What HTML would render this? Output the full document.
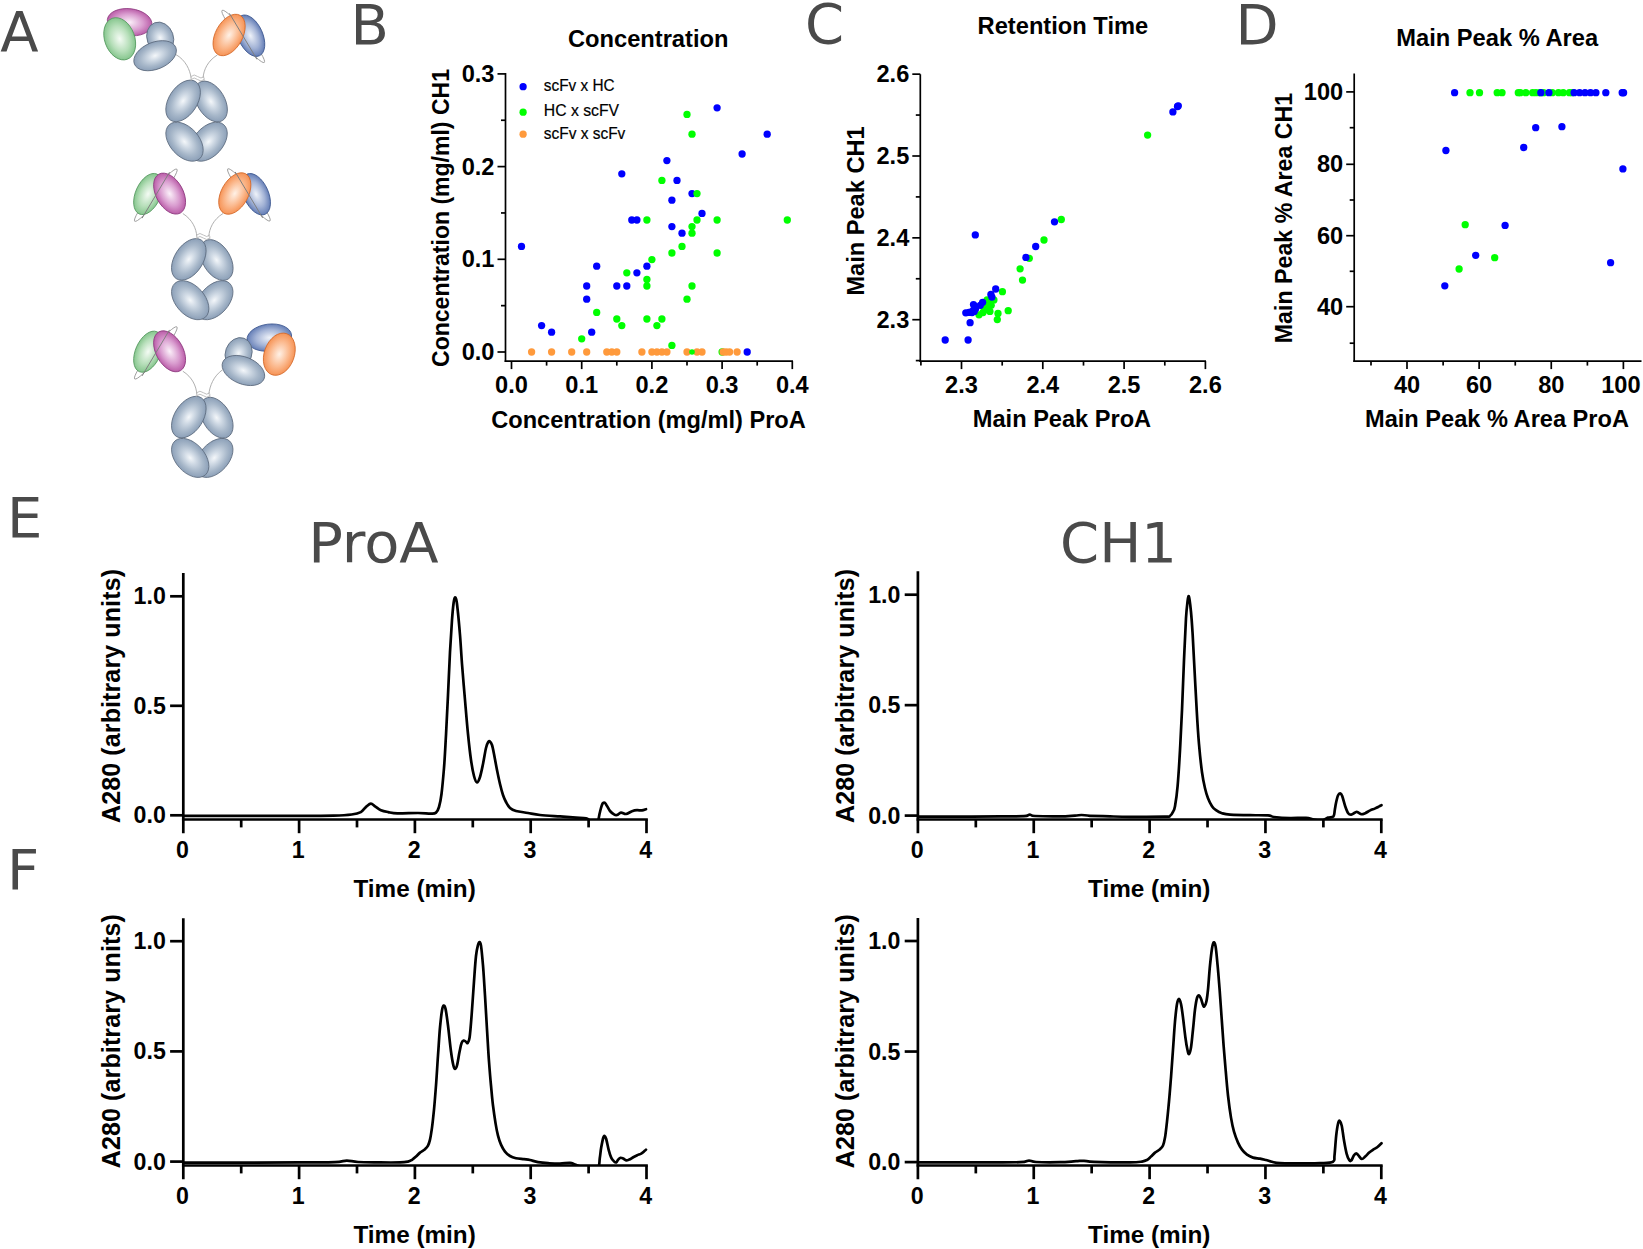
<!DOCTYPE html>
<html lang="en"><head><meta charset="utf-8"><title>Figure</title>
<style>html,body{margin:0;padding:0;background:#fff;overflow:hidden}svg{display:block}</style></head>
<body>
<svg width="1643" height="1249" viewBox="0 0 1643 1249">
<rect width="1643" height="1249" fill="#fff"/>
<defs>
<radialGradient id="gGray" cx="50%" cy="50%" r="55%"><stop offset="0" stop-color="#f4f7fa"/><stop offset="0.28" stop-color="#d0dae5"/><stop offset="0.62" stop-color="#a8b8ca"/><stop offset="1" stop-color="#8398b2"/></radialGradient>
<radialGradient id="gMag" cx="50%" cy="50%" r="55%"><stop offset="0" stop-color="#fbf0f9"/><stop offset="0.55" stop-color="#d99ccf"/><stop offset="1" stop-color="#b24d9e"/></radialGradient>
<radialGradient id="gGrn" cx="50%" cy="50%" r="55%"><stop offset="0" stop-color="#f4fbf4"/><stop offset="0.55" stop-color="#b7dfba"/><stop offset="1" stop-color="#79bf82"/></radialGradient>
<radialGradient id="gOrg" cx="50%" cy="50%" r="55%"><stop offset="0" stop-color="#fff1e6"/><stop offset="0.55" stop-color="#fbb98e"/><stop offset="1" stop-color="#f58a48"/></radialGradient>
<radialGradient id="gBlu" cx="50%" cy="50%" r="55%"><stop offset="0" stop-color="#eef2f9"/><stop offset="0.55" stop-color="#a3b3d6"/><stop offset="1" stop-color="#5470ae"/></radialGradient>
</defs>
<text x="0.3" y="51.2" font-size="56" text-anchor="start" font-family="DejaVu Sans, Verdana, sans-serif" fill="#4a4a4a" >A</text>
<text x="350.5" y="43.8" font-size="56" text-anchor="start" font-family="DejaVu Sans, Verdana, sans-serif" fill="#4a4a4a" >B</text>
<text x="805.1" y="43.0" font-size="56" text-anchor="start" font-family="DejaVu Sans, Verdana, sans-serif" fill="#4a4a4a" >C</text>
<text x="1235.4" y="43.6" font-size="56" text-anchor="start" font-family="DejaVu Sans, Verdana, sans-serif" fill="#4a4a4a" >D</text>
<text x="6.9" y="536.9" font-size="56" text-anchor="start" font-family="DejaVu Sans, Verdana, sans-serif" fill="#4a4a4a" >E</text>
<text x="6.9" y="889.0" font-size="56" text-anchor="start" font-family="DejaVu Sans, Verdana, sans-serif" fill="#4a4a4a" >F</text>
<g id="panelA">
<ellipse cx="0" cy="0" rx="22.4" ry="13.5" transform="translate(129.6,22.2) rotate(7)" fill="url(#gMag)" stroke="#8e3a7f" stroke-width="0.8"/>
<ellipse cx="0" cy="0" rx="15.0" ry="21.8" transform="translate(119.7,38.8) rotate(-20)" fill="url(#gGrn)" stroke="#55995f" stroke-width="0.8"/>
<ellipse cx="0" cy="0" rx="13.2" ry="16" transform="translate(160.2,37.8) rotate(-20)" fill="url(#gGray)" stroke="#5d6b7e" stroke-width="0.8"/>
<ellipse cx="0" cy="0" rx="22.3" ry="13.5" transform="translate(155.1,55.7) rotate(-22)" fill="url(#gGray)" stroke="#5d6b7e" stroke-width="0.8"/>
<path d="M175.8,54.5 C185.6,60.0 190.1,70.0 191.1,78.0" fill="none" stroke="#a6a6a6" stroke-width="0.9"/>
<ellipse cx="0" cy="0" rx="4.6" ry="33.5" transform="translate(243.2,36.4) rotate(-39)" fill="none" stroke="#9c9c9c" stroke-width="0.9"/>
<ellipse cx="0" cy="0" rx="12.3" ry="22.0" transform="translate(250.4,35.7) rotate(-24)" fill="url(#gBlu)" stroke="#3c568f" stroke-width="0.8"/>
<ellipse cx="0" cy="0" rx="13.5" ry="22.5" transform="translate(229.1,35.0) rotate(29)" fill="url(#gOrg)" stroke="#d4692a" stroke-width="0.8"/>
<line x1="3.8" y1="-26.5" x2="-3.8" y2="26.5" transform="translate(243.2,36.4) rotate(-39)" stroke="#7d7d7d" stroke-width="0.9"/>
<path d="M217.3,55.0 C207.6,61.0 203.6,70.0 203.1,78.0" fill="none" stroke="#a6a6a6" stroke-width="0.9"/>
<ellipse cx="0" cy="0" rx="14.5" ry="22.8" transform="translate(208.6,141.7) rotate(42)" fill="url(#gGray)" stroke="#5d6b7e" stroke-width="0.8"/>
<ellipse cx="0" cy="0" rx="14.5" ry="22.8" transform="translate(184.5,141.7) rotate(-42)" fill="url(#gGray)" stroke="#5d6b7e" stroke-width="0.8"/>
<ellipse cx="0" cy="0" rx="13.8" ry="22.3" transform="translate(210.9,101.5) rotate(-31)" fill="url(#gGray)" stroke="#5d6b7e" stroke-width="0.8"/>
<ellipse cx="0" cy="0" rx="14.2" ry="23" transform="translate(183.1,100.9) rotate(33)" fill="url(#gGray)" stroke="#5d6b7e" stroke-width="0.8"/>
<path d="M191.1,77.6 l0,3.5 M204.1,77.6 l0,3.5 M191.1,76.5 q3,-3 6.5,0 t6.5,0 M191.1,79.5 q3,-3 6.5,0 t6.5,0" fill="none" stroke="#b0b0b0" stroke-width="0.8"/>
<ellipse cx="0" cy="0" rx="4.6" ry="33.5" transform="translate(155.8,195.2) rotate(39)" fill="none" stroke="#9c9c9c" stroke-width="0.9"/>
<ellipse cx="0" cy="0" rx="12.5" ry="21.8" transform="translate(148.1,194.0) rotate(24)" fill="url(#gGrn)" stroke="#55995f" stroke-width="0.8"/>
<ellipse cx="0" cy="0" rx="13.5" ry="22.2" transform="translate(169.6,193.6) rotate(-29)" fill="url(#gMag)" stroke="#8e3a7f" stroke-width="0.8"/>
<line x1="-3.8" y1="-26.5" x2="3.8" y2="26.5" transform="translate(155.8,195.2) rotate(39)" stroke="#7d7d7d" stroke-width="0.9"/>
<path d="M182.8,213.5 C192.3,219.5 196.3,228.5 196.8,236.5" fill="none" stroke="#a6a6a6" stroke-width="0.9"/>
<ellipse cx="0" cy="0" rx="4.6" ry="33.5" transform="translate(248.9,194.9) rotate(-39)" fill="none" stroke="#9c9c9c" stroke-width="0.9"/>
<ellipse cx="0" cy="0" rx="12.3" ry="22.0" transform="translate(256.1,194.2) rotate(-24)" fill="url(#gBlu)" stroke="#3c568f" stroke-width="0.8"/>
<ellipse cx="0" cy="0" rx="13.5" ry="22.5" transform="translate(234.8,193.5) rotate(29)" fill="url(#gOrg)" stroke="#d4692a" stroke-width="0.8"/>
<line x1="3.8" y1="-26.5" x2="-3.8" y2="26.5" transform="translate(248.9,194.9) rotate(-39)" stroke="#7d7d7d" stroke-width="0.9"/>
<path d="M223.0,213.5 C213.3,219.5 209.3,228.5 208.8,236.5" fill="none" stroke="#a6a6a6" stroke-width="0.9"/>
<ellipse cx="0" cy="0" rx="14.5" ry="22.8" transform="translate(214.3,300.2) rotate(42)" fill="url(#gGray)" stroke="#5d6b7e" stroke-width="0.8"/>
<ellipse cx="0" cy="0" rx="14.5" ry="22.8" transform="translate(190.2,300.2) rotate(-42)" fill="url(#gGray)" stroke="#5d6b7e" stroke-width="0.8"/>
<ellipse cx="0" cy="0" rx="13.8" ry="22.3" transform="translate(216.6,260.0) rotate(-31)" fill="url(#gGray)" stroke="#5d6b7e" stroke-width="0.8"/>
<ellipse cx="0" cy="0" rx="14.2" ry="23" transform="translate(188.8,259.4) rotate(33)" fill="url(#gGray)" stroke="#5d6b7e" stroke-width="0.8"/>
<path d="M196.8,236.1 l0,3.5 M209.8,236.1 l0,3.5 M196.8,235.0 q3,-3 6.5,0 t6.5,0 M196.8,238.0 q3,-3 6.5,0 t6.5,0" fill="none" stroke="#b0b0b0" stroke-width="0.8"/>
<ellipse cx="0" cy="0" rx="4.6" ry="33.5" transform="translate(155.8,352.9) rotate(39)" fill="none" stroke="#9c9c9c" stroke-width="0.9"/>
<ellipse cx="0" cy="0" rx="12.5" ry="21.8" transform="translate(148.1,351.7) rotate(24)" fill="url(#gGrn)" stroke="#55995f" stroke-width="0.8"/>
<ellipse cx="0" cy="0" rx="13.5" ry="22.2" transform="translate(169.6,351.3) rotate(-29)" fill="url(#gMag)" stroke="#8e3a7f" stroke-width="0.8"/>
<line x1="-3.8" y1="-26.5" x2="3.8" y2="26.5" transform="translate(155.8,352.9) rotate(39)" stroke="#7d7d7d" stroke-width="0.9"/>
<path d="M182.8,371.2 C192.3,377.2 196.3,386.2 196.8,394.2" fill="none" stroke="#a6a6a6" stroke-width="0.9"/>
<ellipse cx="0" cy="0" rx="22.4" ry="13.5" transform="translate(269.3,337.6) rotate(-7)" fill="url(#gBlu)" stroke="#3c568f" stroke-width="0.8"/>
<ellipse cx="0" cy="0" rx="15.0" ry="21.8" transform="translate(279.3,354.2) rotate(20)" fill="url(#gOrg)" stroke="#d4692a" stroke-width="0.8"/>
<ellipse cx="0" cy="0" rx="13.2" ry="16" transform="translate(238.6,353.3) rotate(20)" fill="url(#gGray)" stroke="#5d6b7e" stroke-width="0.8"/>
<ellipse cx="0" cy="0" rx="22.3" ry="13.5" transform="translate(243.4,370.5) rotate(22)" fill="url(#gGray)" stroke="#5d6b7e" stroke-width="0.8"/>
<path d="M222.7,369.7 C213.3,376.2 209.8,386.2 208.8,394.2" fill="none" stroke="#a6a6a6" stroke-width="0.9"/>
<ellipse cx="0" cy="0" rx="14.5" ry="22.8" transform="translate(214.3,457.9) rotate(42)" fill="url(#gGray)" stroke="#5d6b7e" stroke-width="0.8"/>
<ellipse cx="0" cy="0" rx="14.5" ry="22.8" transform="translate(190.2,457.9) rotate(-42)" fill="url(#gGray)" stroke="#5d6b7e" stroke-width="0.8"/>
<ellipse cx="0" cy="0" rx="13.8" ry="22.3" transform="translate(216.6,417.7) rotate(-31)" fill="url(#gGray)" stroke="#5d6b7e" stroke-width="0.8"/>
<ellipse cx="0" cy="0" rx="14.2" ry="23" transform="translate(188.8,417.1) rotate(33)" fill="url(#gGray)" stroke="#5d6b7e" stroke-width="0.8"/>
<path d="M196.8,393.8 l0,3.5 M209.8,393.8 l0,3.5 M196.8,392.7 q3,-3 6.5,0 t6.5,0 M196.8,395.7 q3,-3 6.5,0 t6.5,0" fill="none" stroke="#b0b0b0" stroke-width="0.8"/>
</g>
<g id="panelB">
<line x1="505.50" y1="73.00" x2="505.50" y2="361.95" stroke="#000" stroke-width="1.7" stroke-linecap="butt"/>
<line x1="504.65" y1="361.10" x2="793.00" y2="361.10" stroke="#000" stroke-width="1.7" stroke-linecap="butt"/>
<line x1="497.50" y1="352.00" x2="505.50" y2="352.00" stroke="#000" stroke-width="1.7" stroke-linecap="butt"/>
<text x="494.5" y="360.0" font-size="23.6" text-anchor="end" font-family="Liberation Sans, Arial, sans-serif" font-weight="bold" fill="#000" >0.0</text>
<line x1="497.50" y1="259.30" x2="505.50" y2="259.30" stroke="#000" stroke-width="1.7" stroke-linecap="butt"/>
<text x="494.5" y="267.3" font-size="23.6" text-anchor="end" font-family="Liberation Sans, Arial, sans-serif" font-weight="bold" fill="#000" >0.1</text>
<line x1="497.50" y1="166.60" x2="505.50" y2="166.60" stroke="#000" stroke-width="1.7" stroke-linecap="butt"/>
<text x="494.5" y="174.6" font-size="23.6" text-anchor="end" font-family="Liberation Sans, Arial, sans-serif" font-weight="bold" fill="#000" >0.2</text>
<line x1="497.50" y1="73.90" x2="505.50" y2="73.90" stroke="#000" stroke-width="1.7" stroke-linecap="butt"/>
<text x="494.5" y="81.9" font-size="23.6" text-anchor="end" font-family="Liberation Sans, Arial, sans-serif" font-weight="bold" fill="#000" >0.3</text>
<line x1="501.00" y1="305.65" x2="505.50" y2="305.65" stroke="#000" stroke-width="1.7" stroke-linecap="butt"/>
<line x1="501.00" y1="212.95" x2="505.50" y2="212.95" stroke="#000" stroke-width="1.7" stroke-linecap="butt"/>
<line x1="501.00" y1="120.25" x2="505.50" y2="120.25" stroke="#000" stroke-width="1.7" stroke-linecap="butt"/>
<line x1="511.50" y1="361.10" x2="511.50" y2="369.10" stroke="#000" stroke-width="1.7" stroke-linecap="butt"/>
<text x="511.5" y="392.9" font-size="23.6" text-anchor="middle" font-family="Liberation Sans, Arial, sans-serif" font-weight="bold" fill="#000" >0.0</text>
<line x1="581.70" y1="361.10" x2="581.70" y2="369.10" stroke="#000" stroke-width="1.7" stroke-linecap="butt"/>
<text x="581.7" y="392.9" font-size="23.6" text-anchor="middle" font-family="Liberation Sans, Arial, sans-serif" font-weight="bold" fill="#000" >0.1</text>
<line x1="651.90" y1="361.10" x2="651.90" y2="369.10" stroke="#000" stroke-width="1.7" stroke-linecap="butt"/>
<text x="651.9" y="392.9" font-size="23.6" text-anchor="middle" font-family="Liberation Sans, Arial, sans-serif" font-weight="bold" fill="#000" >0.2</text>
<line x1="722.10" y1="361.10" x2="722.10" y2="369.10" stroke="#000" stroke-width="1.7" stroke-linecap="butt"/>
<text x="722.1" y="392.9" font-size="23.6" text-anchor="middle" font-family="Liberation Sans, Arial, sans-serif" font-weight="bold" fill="#000" >0.3</text>
<line x1="792.30" y1="361.10" x2="792.30" y2="369.10" stroke="#000" stroke-width="1.7" stroke-linecap="butt"/>
<text x="792.3" y="392.9" font-size="23.6" text-anchor="middle" font-family="Liberation Sans, Arial, sans-serif" font-weight="bold" fill="#000" >0.4</text>
<line x1="546.60" y1="361.10" x2="546.60" y2="365.60" stroke="#000" stroke-width="1.7" stroke-linecap="butt"/>
<line x1="616.80" y1="361.10" x2="616.80" y2="365.60" stroke="#000" stroke-width="1.7" stroke-linecap="butt"/>
<line x1="687.00" y1="361.10" x2="687.00" y2="365.60" stroke="#000" stroke-width="1.7" stroke-linecap="butt"/>
<line x1="757.20" y1="361.10" x2="757.20" y2="365.60" stroke="#000" stroke-width="1.7" stroke-linecap="butt"/>
<text x="648.2" y="46.7" font-size="23.7" text-anchor="middle" font-family="Liberation Sans, Arial, sans-serif" font-weight="bold" fill="#000" >Concentration</text>
<text x="648.5" y="428.0" font-size="23.6" text-anchor="middle" font-family="Liberation Sans, Arial, sans-serif" font-weight="bold" fill="#000" >Concentration (mg/ml) ProA</text>
<text transform="translate(449.0,218.0) rotate(-90) scale(0.976,1)" font-size="23.6" text-anchor="middle" font-family="Liberation Sans, Arial, sans-serif" font-weight="bold" fill="#000" >Concentration (mg/ml) CH1</text>
<circle cx="523.1" cy="86.7" r="3.65" fill="#0000ff"/>
<text x="543.8" y="90.9" font-size="16.2" text-anchor="start" font-family="Liberation Sans, Arial, sans-serif" fill="#000" textLength="70.8" lengthAdjust="spacingAndGlyphs" stroke="#000" stroke-width="0.2">scFv x HC</text>
<circle cx="523.1" cy="112.2" r="3.65" fill="#00ff00"/>
<text x="543.8" y="116.2" font-size="16.2" text-anchor="start" font-family="Liberation Sans, Arial, sans-serif" fill="#000" textLength="75.2" lengthAdjust="spacingAndGlyphs" stroke="#000" stroke-width="0.2">HC x scFV</text>
<circle cx="523.1" cy="134.2" r="3.65" fill="#ff9a3c"/>
<text x="543.8" y="138.6" font-size="16.2" text-anchor="start" font-family="Liberation Sans, Arial, sans-serif" fill="#000" textLength="81.5" lengthAdjust="spacingAndGlyphs" stroke="#000" stroke-width="0.2">scFv x scFv</text>
<g fill="#0000ff"><circle cx="521.5" cy="246.4" r="3.65"/><circle cx="541.6" cy="325.6" r="3.65"/><circle cx="551.6" cy="332.2" r="3.65"/><circle cx="591.7" cy="332.2" r="3.65"/><circle cx="586.7" cy="286.0" r="3.65"/><circle cx="586.7" cy="299.2" r="3.65"/><circle cx="596.7" cy="266.2" r="3.65"/><circle cx="616.8" cy="286.0" r="3.65"/><circle cx="626.8" cy="286.0" r="3.65"/><circle cx="636.9" cy="272.8" r="3.65"/><circle cx="631.8" cy="220.0" r="3.65"/><circle cx="636.9" cy="220.0" r="3.65"/><circle cx="717.1" cy="107.8" r="3.65"/><circle cx="767.2" cy="134.2" r="3.65"/><circle cx="742.1" cy="154.0" r="3.65"/><circle cx="666.9" cy="160.6" r="3.65"/><circle cx="621.8" cy="173.8" r="3.65"/><circle cx="677.0" cy="180.4" r="3.65"/><circle cx="692.0" cy="193.6" r="3.65"/><circle cx="671.9" cy="200.2" r="3.65"/><circle cx="702.0" cy="213.4" r="3.65"/><circle cx="671.9" cy="226.6" r="3.65"/><circle cx="682.0" cy="233.2" r="3.65"/><circle cx="646.9" cy="266.2" r="3.65"/><circle cx="747.2" cy="352.0" r="3.65"/></g>
<g fill="#00ff00"><circle cx="581.7" cy="338.8" r="3.65"/><circle cx="596.7" cy="312.4" r="3.65"/><circle cx="616.8" cy="319.0" r="3.65"/><circle cx="621.8" cy="325.6" r="3.65"/><circle cx="626.8" cy="272.8" r="3.65"/><circle cx="687.0" cy="114.4" r="3.65"/><circle cx="692.0" cy="134.2" r="3.65"/><circle cx="661.9" cy="180.4" r="3.65"/><circle cx="697.0" cy="193.6" r="3.65"/><circle cx="646.9" cy="220.0" r="3.65"/><circle cx="697.0" cy="220.0" r="3.65"/><circle cx="717.1" cy="220.0" r="3.65"/><circle cx="787.3" cy="220.0" r="3.65"/><circle cx="692.0" cy="226.6" r="3.65"/><circle cx="692.0" cy="233.2" r="3.65"/><circle cx="682.0" cy="246.4" r="3.65"/><circle cx="671.9" cy="253.0" r="3.65"/><circle cx="717.1" cy="253.0" r="3.65"/><circle cx="651.9" cy="259.6" r="3.65"/><circle cx="646.9" cy="279.4" r="3.65"/><circle cx="646.9" cy="286.0" r="3.65"/><circle cx="692.0" cy="286.0" r="3.65"/><circle cx="687.0" cy="299.2" r="3.65"/><circle cx="646.9" cy="319.0" r="3.65"/><circle cx="661.9" cy="319.0" r="3.65"/><circle cx="656.9" cy="325.6" r="3.65"/><circle cx="671.9" cy="345.4" r="3.65"/><circle cx="722.1" cy="352.0" r="3.65"/></g>
<g fill="#ff9a3c"><circle cx="531.6" cy="352.0" r="3.65"/><circle cx="551.6" cy="352.0" r="3.65"/><circle cx="571.7" cy="352.0" r="3.65"/><circle cx="586.7" cy="352.0" r="3.65"/><circle cx="606.8" cy="352.0" r="3.65"/><circle cx="611.8" cy="352.0" r="3.65"/><circle cx="616.8" cy="352.0" r="3.65"/><circle cx="641.9" cy="352.0" r="3.65"/><circle cx="651.9" cy="352.0" r="3.65"/><circle cx="656.9" cy="352.0" r="3.65"/><circle cx="661.9" cy="352.0" r="3.65"/><circle cx="666.9" cy="352.0" r="3.65"/><circle cx="687.0" cy="352.0" r="3.65"/><circle cx="697.0" cy="352.0" r="3.65"/><circle cx="702.0" cy="352.0" r="3.65"/><circle cx="723.1" cy="352.0" r="3.65"/><circle cx="726.1" cy="352.0" r="3.65"/><circle cx="729.6" cy="352.0" r="3.65"/><circle cx="737.1" cy="352.0" r="3.65"/></g>
<g fill="#00ff00"><circle cx="692.0" cy="352.0" r="2.8"/></g>
</g>
<g id="panelC">
<line x1="920.30" y1="74.20" x2="920.30" y2="361.95" stroke="#000" stroke-width="1.7" stroke-linecap="butt"/>
<line x1="919.45" y1="361.10" x2="1206.00" y2="361.10" stroke="#000" stroke-width="1.7" stroke-linecap="butt"/>
<line x1="912.30" y1="319.70" x2="920.30" y2="319.70" stroke="#000" stroke-width="1.7" stroke-linecap="butt"/>
<text x="909.3" y="327.7" font-size="23.6" text-anchor="end" font-family="Liberation Sans, Arial, sans-serif" font-weight="bold" fill="#000" >2.3</text>
<line x1="912.30" y1="237.85" x2="920.30" y2="237.85" stroke="#000" stroke-width="1.7" stroke-linecap="butt"/>
<text x="909.3" y="245.8" font-size="23.6" text-anchor="end" font-family="Liberation Sans, Arial, sans-serif" font-weight="bold" fill="#000" >2.4</text>
<line x1="912.30" y1="156.00" x2="920.30" y2="156.00" stroke="#000" stroke-width="1.7" stroke-linecap="butt"/>
<text x="909.3" y="164.0" font-size="23.6" text-anchor="end" font-family="Liberation Sans, Arial, sans-serif" font-weight="bold" fill="#000" >2.5</text>
<line x1="912.30" y1="74.15" x2="920.30" y2="74.15" stroke="#000" stroke-width="1.7" stroke-linecap="butt"/>
<text x="909.3" y="82.2" font-size="23.6" text-anchor="end" font-family="Liberation Sans, Arial, sans-serif" font-weight="bold" fill="#000" >2.6</text>
<line x1="915.80" y1="360.60" x2="920.30" y2="360.60" stroke="#000" stroke-width="1.7" stroke-linecap="butt"/>
<line x1="915.80" y1="278.75" x2="920.30" y2="278.75" stroke="#000" stroke-width="1.7" stroke-linecap="butt"/>
<line x1="915.80" y1="196.90" x2="920.30" y2="196.90" stroke="#000" stroke-width="1.7" stroke-linecap="butt"/>
<line x1="915.80" y1="115.05" x2="920.30" y2="115.05" stroke="#000" stroke-width="1.7" stroke-linecap="butt"/>
<line x1="961.50" y1="361.10" x2="961.50" y2="369.10" stroke="#000" stroke-width="1.7" stroke-linecap="butt"/>
<text x="961.5" y="392.9" font-size="23.6" text-anchor="middle" font-family="Liberation Sans, Arial, sans-serif" font-weight="bold" fill="#000" >2.3</text>
<line x1="1042.80" y1="361.10" x2="1042.80" y2="369.10" stroke="#000" stroke-width="1.7" stroke-linecap="butt"/>
<text x="1042.8" y="392.9" font-size="23.6" text-anchor="middle" font-family="Liberation Sans, Arial, sans-serif" font-weight="bold" fill="#000" >2.4</text>
<line x1="1124.10" y1="361.10" x2="1124.10" y2="369.10" stroke="#000" stroke-width="1.7" stroke-linecap="butt"/>
<text x="1124.1" y="392.9" font-size="23.6" text-anchor="middle" font-family="Liberation Sans, Arial, sans-serif" font-weight="bold" fill="#000" >2.5</text>
<line x1="1205.40" y1="361.10" x2="1205.40" y2="369.10" stroke="#000" stroke-width="1.7" stroke-linecap="butt"/>
<text x="1205.4" y="392.9" font-size="23.6" text-anchor="middle" font-family="Liberation Sans, Arial, sans-serif" font-weight="bold" fill="#000" >2.6</text>
<line x1="920.90" y1="361.10" x2="920.90" y2="365.60" stroke="#000" stroke-width="1.7" stroke-linecap="butt"/>
<line x1="1002.20" y1="361.10" x2="1002.20" y2="365.60" stroke="#000" stroke-width="1.7" stroke-linecap="butt"/>
<line x1="1083.50" y1="361.10" x2="1083.50" y2="365.60" stroke="#000" stroke-width="1.7" stroke-linecap="butt"/>
<line x1="1164.80" y1="361.10" x2="1164.80" y2="365.60" stroke="#000" stroke-width="1.7" stroke-linecap="butt"/>
<text x="1062.9" y="34.2" font-size="23.7" text-anchor="middle" font-family="Liberation Sans, Arial, sans-serif" font-weight="bold" fill="#000" >Retention Time</text>
<text x="1062.0" y="427.3" font-size="23.6" text-anchor="middle" font-family="Liberation Sans, Arial, sans-serif" font-weight="bold" fill="#000" >Main Peak ProA</text>
<text transform="translate(863.5,211.0) rotate(-90) scale(1,1)" font-size="23.6" text-anchor="middle" font-family="Liberation Sans, Arial, sans-serif" font-weight="bold" fill="#000" >Main Peak CH1</text>
<g fill="#00ff00"><circle cx="979.0" cy="314.8" r="3.65"/><circle cx="984.4" cy="310.0" r="3.65"/><circle cx="988.5" cy="305.3" r="3.65"/><circle cx="989.9" cy="311.4" r="3.65"/><circle cx="987.1" cy="299.9" r="3.65"/><circle cx="993.9" cy="299.9" r="3.65"/><circle cx="991.2" cy="305.3" r="3.65"/><circle cx="998.0" cy="313.5" r="3.65"/><circle cx="997.3" cy="319.6" r="3.65"/><circle cx="1008.2" cy="310.7" r="3.65"/><circle cx="1002.4" cy="291.7" r="3.65"/><circle cx="1022.5" cy="280.1" r="3.65"/><circle cx="1020.1" cy="268.8" r="3.65"/><circle cx="1029.3" cy="258.3" r="3.65"/><circle cx="1044.0" cy="240.0" r="3.65"/><circle cx="1061.3" cy="219.5" r="3.65"/><circle cx="1147.6" cy="135.1" r="3.65"/><circle cx="986.0" cy="307.5" r="3.65"/><circle cx="990.5" cy="302.5" r="3.65"/><circle cx="983.0" cy="312.5" r="3.65"/></g>
<g fill="#0000ff"><circle cx="945.2" cy="340.0" r="3.65"/><circle cx="968.1" cy="340.0" r="3.65"/><circle cx="970.1" cy="322.7" r="3.65"/><circle cx="965.8" cy="312.8" r="3.65"/><circle cx="970.8" cy="312.1" r="3.65"/><circle cx="974.2" cy="311.4" r="3.65"/><circle cx="975.6" cy="308.7" r="3.65"/><circle cx="973.5" cy="304.6" r="3.65"/><circle cx="980.3" cy="305.3" r="3.65"/><circle cx="982.6" cy="302.3" r="3.65"/><circle cx="990.9" cy="294.4" r="3.65"/><circle cx="991.9" cy="297.1" r="3.65"/><circle cx="995.7" cy="289.0" r="3.65"/><circle cx="975.3" cy="234.9" r="3.65"/><circle cx="1025.9" cy="257.4" r="3.65"/><circle cx="1035.7" cy="246.5" r="3.65"/><circle cx="1054.5" cy="221.8" r="3.65"/><circle cx="1172.9" cy="111.9" r="3.65"/><circle cx="1177.5" cy="106.5" r="3.65"/><circle cx="1178.3" cy="105.8" r="3.65"/><circle cx="972.0" cy="312.6" r="3.65"/><circle cx="973.5" cy="310.2" r="3.65"/><circle cx="969.0" cy="312.4" r="3.65"/></g>
</g>
<g id="panelD">
<line x1="1354.20" y1="73.50" x2="1354.20" y2="361.95" stroke="#000" stroke-width="1.7" stroke-linecap="butt"/>
<line x1="1353.35" y1="361.10" x2="1641.50" y2="361.10" stroke="#000" stroke-width="1.7" stroke-linecap="butt"/>
<line x1="1346.20" y1="306.70" x2="1354.20" y2="306.70" stroke="#000" stroke-width="1.7" stroke-linecap="butt"/>
<text x="1343.2" y="314.7" font-size="23.6" text-anchor="end" font-family="Liberation Sans, Arial, sans-serif" font-weight="bold" fill="#000" >40</text>
<line x1="1346.20" y1="235.70" x2="1354.20" y2="235.70" stroke="#000" stroke-width="1.7" stroke-linecap="butt"/>
<text x="1343.2" y="243.7" font-size="23.6" text-anchor="end" font-family="Liberation Sans, Arial, sans-serif" font-weight="bold" fill="#000" >60</text>
<line x1="1346.20" y1="164.30" x2="1354.20" y2="164.30" stroke="#000" stroke-width="1.7" stroke-linecap="butt"/>
<text x="1343.2" y="172.3" font-size="23.6" text-anchor="end" font-family="Liberation Sans, Arial, sans-serif" font-weight="bold" fill="#000" >80</text>
<line x1="1346.20" y1="91.90" x2="1354.20" y2="91.90" stroke="#000" stroke-width="1.7" stroke-linecap="butt"/>
<text x="1343.2" y="99.9" font-size="23.6" text-anchor="end" font-family="Liberation Sans, Arial, sans-serif" font-weight="bold" fill="#000" >100</text>
<line x1="1349.70" y1="343.20" x2="1354.20" y2="343.20" stroke="#000" stroke-width="1.7" stroke-linecap="butt"/>
<line x1="1349.70" y1="271.30" x2="1354.20" y2="271.30" stroke="#000" stroke-width="1.7" stroke-linecap="butt"/>
<line x1="1349.70" y1="200.00" x2="1354.20" y2="200.00" stroke="#000" stroke-width="1.7" stroke-linecap="butt"/>
<line x1="1349.70" y1="127.70" x2="1354.20" y2="127.70" stroke="#000" stroke-width="1.7" stroke-linecap="butt"/>
<line x1="1407.00" y1="361.10" x2="1407.00" y2="369.10" stroke="#000" stroke-width="1.7" stroke-linecap="butt"/>
<text x="1407.0" y="392.9" font-size="23.6" text-anchor="middle" font-family="Liberation Sans, Arial, sans-serif" font-weight="bold" fill="#000" >40</text>
<line x1="1479.13" y1="361.10" x2="1479.13" y2="369.10" stroke="#000" stroke-width="1.7" stroke-linecap="butt"/>
<text x="1479.1" y="392.9" font-size="23.6" text-anchor="middle" font-family="Liberation Sans, Arial, sans-serif" font-weight="bold" fill="#000" >60</text>
<line x1="1551.26" y1="361.10" x2="1551.26" y2="369.10" stroke="#000" stroke-width="1.7" stroke-linecap="butt"/>
<text x="1551.3" y="392.9" font-size="23.6" text-anchor="middle" font-family="Liberation Sans, Arial, sans-serif" font-weight="bold" fill="#000" >80</text>
<line x1="1623.39" y1="361.10" x2="1623.39" y2="369.10" stroke="#000" stroke-width="1.7" stroke-linecap="butt"/>
<text x="1620.9" y="392.9" font-size="23.6" text-anchor="middle" font-family="Liberation Sans, Arial, sans-serif" font-weight="bold" fill="#000" >100</text>
<line x1="1371.00" y1="361.10" x2="1371.00" y2="365.60" stroke="#000" stroke-width="1.7" stroke-linecap="butt"/>
<line x1="1443.13" y1="361.10" x2="1443.13" y2="365.60" stroke="#000" stroke-width="1.7" stroke-linecap="butt"/>
<line x1="1515.26" y1="361.10" x2="1515.26" y2="365.60" stroke="#000" stroke-width="1.7" stroke-linecap="butt"/>
<line x1="1587.39" y1="361.10" x2="1587.39" y2="365.60" stroke="#000" stroke-width="1.7" stroke-linecap="butt"/>
<text x="1497.2" y="46.1" font-size="23.7" text-anchor="middle" font-family="Liberation Sans, Arial, sans-serif" font-weight="bold" fill="#000" >Main Peak % Area</text>
<text x="1497.0" y="427.3" font-size="23.6" text-anchor="middle" font-family="Liberation Sans, Arial, sans-serif" font-weight="bold" fill="#000" >Main Peak % Area ProA</text>
<text transform="translate(1291.7,218.0) rotate(-90) scale(0.983,1)" font-size="23.6" text-anchor="middle" font-family="Liberation Sans, Arial, sans-serif" font-weight="bold" fill="#000" >Main Peak % Area CH1</text>
<g fill="#00ff00"><circle cx="1470.0" cy="92.7" r="3.65"/><circle cx="1479.5" cy="92.7" r="3.65"/><circle cx="1497.2" cy="92.7" r="3.65"/><circle cx="1502.0" cy="92.7" r="3.65"/><circle cx="1518.3" cy="92.7" r="3.65"/><circle cx="1520.3" cy="92.7" r="3.65"/><circle cx="1525.8" cy="92.7" r="3.65"/><circle cx="1532.6" cy="92.7" r="3.65"/><circle cx="1536.0" cy="92.7" r="3.65"/><circle cx="1540.0" cy="92.7" r="3.65"/><circle cx="1543.5" cy="92.7" r="3.65"/><circle cx="1552.3" cy="92.7" r="3.65"/><circle cx="1558.5" cy="92.7" r="3.65"/><circle cx="1563.2" cy="92.7" r="3.65"/><circle cx="1569.4" cy="92.7" r="3.65"/><circle cx="1572.1" cy="92.7" r="3.65"/><circle cx="1465.2" cy="224.7" r="3.65"/><circle cx="1494.7" cy="257.7" r="3.65"/><circle cx="1459.1" cy="269.0" r="3.65"/></g>
<g fill="#0000ff"><circle cx="1454.6" cy="92.7" r="3.65"/><circle cx="1540.8" cy="92.7" r="3.65"/><circle cx="1548.9" cy="92.7" r="3.65"/><circle cx="1574.1" cy="92.7" r="3.65"/><circle cx="1579.6" cy="92.7" r="3.65"/><circle cx="1585.0" cy="92.7" r="3.65"/><circle cx="1590.5" cy="92.7" r="3.65"/><circle cx="1595.9" cy="92.7" r="3.65"/><circle cx="1605.8" cy="92.7" r="3.65"/><circle cx="1622.9" cy="92.7" r="3.65"/><circle cx="1622.2" cy="92.7" r="3.65"/><circle cx="1623.6" cy="92.7" r="3.65"/><circle cx="1535.7" cy="127.7" r="3.65"/><circle cx="1561.9" cy="126.7" r="3.65"/><circle cx="1523.7" cy="147.5" r="3.65"/><circle cx="1445.9" cy="150.5" r="3.65"/><circle cx="1622.9" cy="168.9" r="3.65"/><circle cx="1505.1" cy="225.4" r="3.65"/><circle cx="1475.7" cy="255.3" r="3.65"/><circle cx="1444.8" cy="285.8" r="3.65"/><circle cx="1610.6" cy="262.7" r="3.65"/></g>
</g>
<g id="chrom1">
<clipPath id="clip1"><rect x="181.3" y="572.9" width="469.2" height="246.60000000000002"/></clipPath>
<path d="M183.2,815.8C192.7,815.8 220.5,815.9 240.0,815.9C259.5,815.9 284.4,815.8 300.0,815.8C315.6,815.8 324.9,815.8 333.5,815.6C342.1,815.4 347.1,815.1 351.7,814.5C356.2,813.9 358.4,813.4 360.8,812.1C363.2,810.8 364.6,808.0 366.3,806.6C368.0,805.2 369.4,803.6 370.9,803.6C372.4,803.6 373.7,805.5 375.4,806.6C377.1,807.7 378.8,809.4 380.9,810.3C383.0,811.2 385.4,811.6 388.2,812.1C390.9,812.6 392.4,813.2 397.4,813.4C402.4,813.5 412.4,813.0 418.0,813.0C423.6,813.0 428.0,813.7 431.0,813.6C434.0,813.5 434.7,813.7 436.0,812.6C437.3,811.5 438.1,810.1 439.0,807.0C439.9,803.9 440.7,800.5 441.5,794.0C442.3,787.5 443.2,777.8 444.0,768.0C444.8,758.2 445.3,747.2 446.0,735.0C446.7,722.8 447.3,708.8 448.0,695.0C448.7,681.2 449.3,664.5 450.0,652.0C450.7,639.5 451.4,628.2 452.0,620.0C452.6,611.8 453.1,606.8 453.6,603.0C454.1,599.2 454.5,597.8 455.0,597.5C455.5,597.2 456.1,598.6 456.6,601.2C457.1,603.8 457.4,607.4 458.0,613.0C458.6,618.6 459.3,626.5 460.0,635.0C460.7,643.5 461.2,653.2 462.0,664.0C462.8,674.8 464.0,688.3 465.0,700.0C466.0,711.7 467.0,724.0 468.0,734.0C469.0,744.0 470.0,753.0 471.0,760.0C472.0,767.0 473.0,772.2 474.0,776.0C475.0,779.8 476.0,782.3 477.0,782.5C478.0,782.7 479.0,780.1 480.0,777.0C481.0,773.9 482.0,768.8 483.0,764.0C484.0,759.2 485.1,751.7 486.0,748.0C486.9,744.3 487.5,743.1 488.2,742.0C488.9,740.9 489.4,741.1 490.0,741.6C490.6,742.1 491.3,742.9 492.0,745.0C492.7,747.1 493.2,749.8 494.0,754.0C494.8,758.2 496.0,765.0 497.0,770.0C498.0,775.0 499.0,779.8 500.0,784.0C501.0,788.2 502.0,792.0 503.0,795.0C504.0,798.0 504.8,799.8 506.0,802.0C507.2,804.2 508.3,806.5 510.0,808.0C511.7,809.5 513.0,810.2 516.0,811.0C519.0,811.8 524.0,812.3 528.0,813.0C532.0,813.7 534.7,814.4 540.0,815.0C545.3,815.6 554.0,816.0 560.0,816.4C566.0,816.8 571.7,817.3 576.0,817.6C580.3,817.9 583.7,817.9 586.0,818.4C588.3,818.9 588.5,819.9 590.0,820.5C591.5,821.1 593.7,822.0 595.0,822.0C596.3,822.0 597.2,821.8 598.0,820.5C598.8,819.2 599.0,816.1 599.5,814.0C600.0,811.9 600.5,809.8 601.0,808.0C601.5,806.2 602.1,804.4 602.6,803.5C603.1,802.6 603.5,802.6 604.0,802.6C604.5,802.6 605.0,802.9 605.5,803.5C606.0,804.1 606.2,804.8 607.0,806.0C607.8,807.2 608.8,809.6 610.0,811.0C611.2,812.4 612.8,813.7 614.0,814.4C615.2,815.1 615.8,815.3 617.0,815.0C618.2,814.7 619.5,812.8 621.0,812.6C622.5,812.4 624.2,814.2 626.0,814.0C627.8,813.8 630.2,811.8 632.0,811.2C633.8,810.6 635.3,810.3 637.0,810.2C638.7,810.1 640.5,810.6 642.0,810.4C643.5,810.2 645.3,809.4 646.0,809.2" fill="none" stroke="#000" stroke-width="2.7" stroke-linejoin="round" stroke-linecap="round" clip-path="url(#clip1)"/>
<line x1="183.30" y1="572.90" x2="183.30" y2="833.20" stroke="#000" stroke-width="2.7" stroke-linecap="butt"/>
<line x1="181.95" y1="819.50" x2="647.85" y2="819.50" stroke="#000" stroke-width="2.7" stroke-linecap="butt"/>
<text x="182.5" y="858.4" font-size="23.2" text-anchor="middle" font-family="Liberation Sans, Arial, sans-serif" font-weight="bold" fill="#000" >0</text>
<line x1="299.10" y1="819.50" x2="299.10" y2="833.20" stroke="#000" stroke-width="2.7" stroke-linecap="butt"/>
<text x="298.3" y="858.4" font-size="23.2" text-anchor="middle" font-family="Liberation Sans, Arial, sans-serif" font-weight="bold" fill="#000" >1</text>
<line x1="414.90" y1="819.50" x2="414.90" y2="833.20" stroke="#000" stroke-width="2.7" stroke-linecap="butt"/>
<text x="414.1" y="858.4" font-size="23.2" text-anchor="middle" font-family="Liberation Sans, Arial, sans-serif" font-weight="bold" fill="#000" >2</text>
<line x1="530.70" y1="819.50" x2="530.70" y2="833.20" stroke="#000" stroke-width="2.7" stroke-linecap="butt"/>
<text x="529.9" y="858.4" font-size="23.2" text-anchor="middle" font-family="Liberation Sans, Arial, sans-serif" font-weight="bold" fill="#000" >3</text>
<line x1="646.50" y1="819.50" x2="646.50" y2="833.20" stroke="#000" stroke-width="2.7" stroke-linecap="butt"/>
<text x="645.7" y="858.4" font-size="23.2" text-anchor="middle" font-family="Liberation Sans, Arial, sans-serif" font-weight="bold" fill="#000" >4</text>
<line x1="241.20" y1="819.50" x2="241.20" y2="827.40" stroke="#000" stroke-width="2.7" stroke-linecap="butt"/>
<line x1="357.00" y1="819.50" x2="357.00" y2="827.40" stroke="#000" stroke-width="2.7" stroke-linecap="butt"/>
<line x1="472.80" y1="819.50" x2="472.80" y2="827.40" stroke="#000" stroke-width="2.7" stroke-linecap="butt"/>
<line x1="588.60" y1="819.50" x2="588.60" y2="827.40" stroke="#000" stroke-width="2.7" stroke-linecap="butt"/>
<line x1="170.10" y1="815.30" x2="183.30" y2="815.30" stroke="#000" stroke-width="2.7" stroke-linecap="butt"/>
<text x="165.8" y="823.2" font-size="23.2" text-anchor="end" font-family="Liberation Sans, Arial, sans-serif" font-weight="bold" fill="#000" >0.0</text>
<line x1="170.10" y1="705.80" x2="183.30" y2="705.80" stroke="#000" stroke-width="2.7" stroke-linecap="butt"/>
<text x="165.8" y="713.7" font-size="23.2" text-anchor="end" font-family="Liberation Sans, Arial, sans-serif" font-weight="bold" fill="#000" >0.5</text>
<line x1="170.10" y1="596.30" x2="183.30" y2="596.30" stroke="#000" stroke-width="2.7" stroke-linecap="butt"/>
<text x="165.8" y="604.2" font-size="23.2" text-anchor="end" font-family="Liberation Sans, Arial, sans-serif" font-weight="bold" fill="#000" >1.0</text>
<text x="414.6" y="897.1" font-size="24.3" text-anchor="middle" font-family="Liberation Sans, Arial, sans-serif" font-weight="bold" fill="#000" >Time (min)</text>
<text transform="translate(119.5,696.0) rotate(-90) scale(1,1)" font-size="25" text-anchor="middle" font-family="Liberation Sans, Arial, sans-serif" font-weight="bold" fill="#000" textLength="254" lengthAdjust="spacing">A280 (arbitrary units)</text>
</g>
<text transform="translate(373.4,562.1) scale(1.027,1)" font-size="56" text-anchor="middle" font-family="DejaVu Sans, Verdana, sans-serif" fill="#4a4a4a">ProA</text>
<g id="chrom2">
<clipPath id="clip2"><rect x="915.9" y="571.2" width="469.4" height="248.29999999999995"/></clipPath>
<path d="M917.9,816.6C924.9,816.6 946.3,816.6 960.0,816.6C973.7,816.6 989.3,816.5 1000.0,816.4C1010.7,816.3 1019.0,816.5 1024.0,816.2C1029.0,815.9 1027.9,814.6 1029.7,814.6C1031.5,814.6 1030.0,815.7 1035.0,816.0C1040.0,816.3 1053.3,816.5 1060.0,816.4C1066.7,816.3 1071.4,815.8 1075.0,815.6C1078.6,815.4 1079.0,815.0 1081.5,815.0C1084.0,815.0 1085.2,815.6 1090.0,815.8C1094.8,816.0 1103.3,816.2 1110.0,816.4C1116.7,816.6 1120.8,816.8 1130.0,816.8C1139.2,816.8 1158.3,816.9 1165.0,816.7C1171.7,816.6 1168.7,816.7 1170.0,815.9C1171.3,815.1 1172.2,813.4 1173.0,811.8C1173.8,810.2 1174.2,810.5 1175.0,806.2C1175.8,801.9 1176.8,795.6 1177.6,786.2C1178.4,776.9 1179.3,762.8 1180.0,750.1C1180.7,737.4 1181.3,725.1 1182.0,710.1C1182.7,695.1 1183.3,675.5 1184.0,660.1C1184.7,644.8 1185.4,627.9 1186.0,618.0C1186.6,608.1 1187.2,604.6 1187.6,601.0C1188.0,597.4 1188.3,596.4 1188.6,596.2C1188.9,596.0 1189.2,597.4 1189.6,600.0C1190.0,602.6 1190.5,606.7 1191.0,612.0C1191.5,617.3 1192.0,624.0 1192.5,632.0C1193.0,640.0 1193.3,647.0 1194.0,660.0C1194.7,673.0 1195.9,696.1 1196.7,710.1C1197.5,724.1 1198.1,733.8 1199.0,744.1C1199.9,754.5 1201.0,764.9 1202.0,772.2C1203.0,779.6 1204.0,783.9 1205.0,788.2C1206.0,792.5 1206.8,795.2 1208.0,798.2C1209.2,801.2 1210.7,804.2 1212.0,806.2C1213.3,808.2 1214.3,809.0 1216.0,810.2C1217.7,811.4 1219.7,812.5 1222.0,813.2C1224.3,813.9 1225.3,814.3 1230.0,814.6C1234.7,814.9 1243.7,815.1 1250.0,815.2C1256.3,815.3 1264.0,815.1 1268.0,815.4C1272.0,815.7 1270.3,816.6 1274.0,817.0C1277.7,817.4 1284.7,817.9 1290.0,818.0C1295.3,818.1 1302.0,817.5 1306.0,817.8C1310.0,818.1 1311.2,819.2 1314.0,819.6C1316.8,820.0 1320.7,820.3 1323.0,820.0C1325.3,819.7 1326.2,818.2 1328.0,817.6C1329.8,817.0 1332.4,817.7 1333.5,816.4C1334.6,815.1 1334.4,812.2 1334.8,810.0C1335.2,807.8 1335.5,805.4 1336.0,803.0C1336.5,800.6 1337.3,797.1 1338.0,795.5C1338.7,793.9 1339.5,793.3 1340.2,793.4C1340.9,793.5 1341.4,793.9 1342.2,796.0C1343.0,798.1 1344.2,803.3 1345.2,806.2C1346.2,809.1 1347.2,811.8 1348.2,813.2C1349.2,814.6 1350.0,814.7 1351.2,814.6C1352.4,814.5 1354.2,812.8 1355.2,812.4C1356.2,812.0 1356.2,811.7 1357.2,812.0C1358.2,812.3 1359.9,814.0 1361.2,814.2C1362.5,814.4 1363.7,813.8 1365.2,813.2C1366.7,812.6 1368.5,811.2 1370.2,810.4C1371.9,809.6 1373.7,809.1 1375.2,808.4C1376.7,807.7 1378.2,806.9 1379.2,806.4C1380.2,805.9 1381.1,805.4 1381.5,805.2" fill="none" stroke="#000" stroke-width="2.7" stroke-linejoin="round" stroke-linecap="round" clip-path="url(#clip2)"/>
<line x1="917.90" y1="571.20" x2="917.90" y2="833.20" stroke="#000" stroke-width="2.7" stroke-linecap="butt"/>
<line x1="916.55" y1="819.50" x2="1382.65" y2="819.50" stroke="#000" stroke-width="2.7" stroke-linecap="butt"/>
<text x="917.1" y="858.4" font-size="23.2" text-anchor="middle" font-family="Liberation Sans, Arial, sans-serif" font-weight="bold" fill="#000" >0</text>
<line x1="1033.75" y1="819.50" x2="1033.75" y2="833.20" stroke="#000" stroke-width="2.7" stroke-linecap="butt"/>
<text x="1033.0" y="858.4" font-size="23.2" text-anchor="middle" font-family="Liberation Sans, Arial, sans-serif" font-weight="bold" fill="#000" >1</text>
<line x1="1149.60" y1="819.50" x2="1149.60" y2="833.20" stroke="#000" stroke-width="2.7" stroke-linecap="butt"/>
<text x="1148.8" y="858.4" font-size="23.2" text-anchor="middle" font-family="Liberation Sans, Arial, sans-serif" font-weight="bold" fill="#000" >2</text>
<line x1="1265.45" y1="819.50" x2="1265.45" y2="833.20" stroke="#000" stroke-width="2.7" stroke-linecap="butt"/>
<text x="1264.6" y="858.4" font-size="23.2" text-anchor="middle" font-family="Liberation Sans, Arial, sans-serif" font-weight="bold" fill="#000" >3</text>
<line x1="1381.30" y1="819.50" x2="1381.30" y2="833.20" stroke="#000" stroke-width="2.7" stroke-linecap="butt"/>
<text x="1380.5" y="858.4" font-size="23.2" text-anchor="middle" font-family="Liberation Sans, Arial, sans-serif" font-weight="bold" fill="#000" >4</text>
<line x1="975.82" y1="819.50" x2="975.82" y2="827.40" stroke="#000" stroke-width="2.7" stroke-linecap="butt"/>
<line x1="1091.67" y1="819.50" x2="1091.67" y2="827.40" stroke="#000" stroke-width="2.7" stroke-linecap="butt"/>
<line x1="1207.53" y1="819.50" x2="1207.53" y2="827.40" stroke="#000" stroke-width="2.7" stroke-linecap="butt"/>
<line x1="1323.38" y1="819.50" x2="1323.38" y2="827.40" stroke="#000" stroke-width="2.7" stroke-linecap="butt"/>
<line x1="904.70" y1="815.60" x2="917.90" y2="815.60" stroke="#000" stroke-width="2.7" stroke-linecap="butt"/>
<text x="900.4" y="823.5" font-size="23.2" text-anchor="end" font-family="Liberation Sans, Arial, sans-serif" font-weight="bold" fill="#000" >0.0</text>
<line x1="904.70" y1="705.15" x2="917.90" y2="705.15" stroke="#000" stroke-width="2.7" stroke-linecap="butt"/>
<text x="900.4" y="713.1" font-size="23.2" text-anchor="end" font-family="Liberation Sans, Arial, sans-serif" font-weight="bold" fill="#000" >0.5</text>
<line x1="904.70" y1="594.70" x2="917.90" y2="594.70" stroke="#000" stroke-width="2.7" stroke-linecap="butt"/>
<text x="900.4" y="602.6" font-size="23.2" text-anchor="end" font-family="Liberation Sans, Arial, sans-serif" font-weight="bold" fill="#000" >1.0</text>
<text x="1149.2" y="897.1" font-size="24.3" text-anchor="middle" font-family="Liberation Sans, Arial, sans-serif" font-weight="bold" fill="#000" >Time (min)</text>
<text transform="translate(853.8,696.0) rotate(-90) scale(1,1)" font-size="25" text-anchor="middle" font-family="Liberation Sans, Arial, sans-serif" font-weight="bold" fill="#000" textLength="254" lengthAdjust="spacing">A280 (arbitrary units)</text>
</g>
<text x="1118.5" y="562.1" font-size="56" text-anchor="middle" font-family="DejaVu Sans, Verdana, sans-serif" fill="#4a4a4a" >CH1</text>
<g id="chrom3">
<clipPath id="clip3"><rect x="181.3" y="918.3" width="469.2" height="247.20000000000005"/></clipPath>
<path d="M183.2,1162.6C194.3,1162.6 230.5,1162.6 250.0,1162.6C269.5,1162.6 285.8,1162.5 300.0,1162.4C314.2,1162.3 327.2,1162.5 335.0,1162.2C342.8,1161.9 343.0,1160.6 346.8,1160.6C350.6,1160.6 352.5,1161.7 358.0,1162.0C363.5,1162.3 373.0,1162.3 380.0,1162.4C387.0,1162.5 395.3,1162.5 400.0,1162.4C404.7,1162.3 406.0,1162.0 408.0,1161.6C410.0,1161.2 410.7,1160.6 412.0,1159.8C413.3,1159.0 414.7,1157.8 416.0,1156.6C417.3,1155.4 418.5,1153.8 420.0,1152.6C421.5,1151.4 423.7,1150.4 425.0,1149.2C426.3,1148.0 427.2,1147.2 428.0,1145.6C428.8,1144.0 429.3,1142.6 430.0,1139.6C430.7,1136.6 431.3,1132.6 432.0,1127.6C432.7,1122.6 433.3,1116.6 434.0,1109.6C434.7,1102.6 435.3,1094.5 436.0,1085.5C436.7,1076.5 437.3,1065.2 438.0,1055.5C438.7,1045.8 439.3,1035.0 440.0,1027.5C440.7,1020.0 441.4,1014.1 442.0,1010.5C442.6,1006.9 443.0,1005.8 443.6,1005.6C444.2,1005.4 444.9,1005.8 445.6,1009.1C446.3,1012.4 447.1,1018.4 448.0,1025.5C448.9,1032.6 450.1,1044.8 451.0,1051.5C451.9,1058.2 452.7,1062.6 453.4,1065.5C454.1,1068.4 454.4,1069.0 455.0,1069.0C455.6,1069.0 456.2,1068.4 457.0,1065.5C457.8,1062.6 458.8,1055.2 459.6,1051.5C460.4,1047.8 460.9,1044.9 461.6,1043.1C462.3,1041.3 462.9,1040.7 463.6,1040.5C464.3,1040.3 465.3,1041.4 466.0,1041.8C466.7,1042.2 467.0,1043.7 467.6,1043.0C468.2,1042.3 468.9,1042.1 469.6,1037.5C470.3,1032.9 470.9,1024.8 471.6,1015.5C472.3,1006.1 473.3,991.3 474.0,981.4C474.7,971.5 475.3,962.1 476.0,956.0C476.7,949.9 477.4,947.3 478.0,945.0C478.6,942.7 478.9,941.9 479.4,942.0C479.9,942.1 480.4,941.7 481.0,945.6C481.6,949.5 482.3,957.1 483.0,965.4C483.7,973.7 484.3,984.8 485.0,995.5C485.7,1006.2 486.3,1018.5 487.0,1029.5C487.7,1040.5 488.3,1052.2 489.0,1061.5C489.7,1070.8 490.3,1078.2 491.0,1085.5C491.7,1092.8 492.2,1099.2 493.0,1105.5C493.8,1111.8 494.8,1118.6 495.6,1123.6C496.4,1128.6 497.1,1132.1 498.0,1135.6C498.9,1139.1 499.8,1141.9 501.0,1144.6C502.2,1147.3 503.5,1149.7 505.0,1151.6C506.5,1153.5 508.2,1154.9 510.0,1156.0C511.8,1157.1 513.7,1157.7 516.0,1158.2C518.3,1158.7 521.7,1158.9 524.0,1159.2C526.3,1159.5 527.7,1159.5 530.0,1160.0C532.3,1160.5 535.0,1161.7 538.0,1162.2C541.0,1162.7 544.3,1163.0 548.0,1163.2C551.7,1163.4 556.3,1163.7 560.0,1163.6C563.7,1163.5 567.5,1162.6 570.0,1162.8C572.5,1163.0 573.0,1163.9 575.0,1164.6C577.0,1165.3 579.2,1166.4 582.0,1167.0C584.8,1167.6 589.3,1168.0 592.0,1168.0C594.7,1168.0 597.1,1168.7 598.4,1167.0C599.7,1165.3 599.3,1161.2 599.8,1158.0C600.3,1154.8 600.6,1150.9 601.2,1147.6C601.8,1144.3 602.6,1139.9 603.2,1138.0C603.8,1136.1 604.1,1135.8 604.6,1136.0C605.1,1136.2 605.5,1136.7 606.2,1139.0C606.9,1141.3 607.8,1146.5 608.6,1149.6C609.4,1152.7 610.3,1155.6 611.2,1157.6C612.1,1159.6 613.4,1160.8 614.2,1161.6C615.0,1162.4 615.5,1162.7 616.2,1162.4C616.9,1162.1 617.5,1160.4 618.2,1159.6C618.9,1158.8 619.8,1158.0 620.6,1157.8C621.4,1157.6 622.3,1158.2 623.2,1158.6C624.1,1159.0 625.2,1160.2 626.2,1160.4C627.2,1160.6 628.0,1160.1 629.2,1159.6C630.4,1159.1 631.9,1157.9 633.2,1157.2C634.5,1156.5 635.9,1155.8 637.2,1155.2C638.5,1154.6 640.0,1154.3 641.2,1153.6C642.4,1152.9 643.4,1151.9 644.2,1151.2C645.0,1150.5 645.7,1149.9 646.0,1149.6" fill="none" stroke="#000" stroke-width="2.7" stroke-linejoin="round" stroke-linecap="round" clip-path="url(#clip3)"/>
<line x1="183.30" y1="918.30" x2="183.30" y2="1179.20" stroke="#000" stroke-width="2.7" stroke-linecap="butt"/>
<line x1="181.95" y1="1165.50" x2="647.85" y2="1165.50" stroke="#000" stroke-width="2.7" stroke-linecap="butt"/>
<text x="182.5" y="1204.4" font-size="23.2" text-anchor="middle" font-family="Liberation Sans, Arial, sans-serif" font-weight="bold" fill="#000" >0</text>
<line x1="299.10" y1="1165.50" x2="299.10" y2="1179.20" stroke="#000" stroke-width="2.7" stroke-linecap="butt"/>
<text x="298.3" y="1204.4" font-size="23.2" text-anchor="middle" font-family="Liberation Sans, Arial, sans-serif" font-weight="bold" fill="#000" >1</text>
<line x1="414.90" y1="1165.50" x2="414.90" y2="1179.20" stroke="#000" stroke-width="2.7" stroke-linecap="butt"/>
<text x="414.1" y="1204.4" font-size="23.2" text-anchor="middle" font-family="Liberation Sans, Arial, sans-serif" font-weight="bold" fill="#000" >2</text>
<line x1="530.70" y1="1165.50" x2="530.70" y2="1179.20" stroke="#000" stroke-width="2.7" stroke-linecap="butt"/>
<text x="529.9" y="1204.4" font-size="23.2" text-anchor="middle" font-family="Liberation Sans, Arial, sans-serif" font-weight="bold" fill="#000" >3</text>
<line x1="646.50" y1="1165.50" x2="646.50" y2="1179.20" stroke="#000" stroke-width="2.7" stroke-linecap="butt"/>
<text x="645.7" y="1204.4" font-size="23.2" text-anchor="middle" font-family="Liberation Sans, Arial, sans-serif" font-weight="bold" fill="#000" >4</text>
<line x1="241.20" y1="1165.50" x2="241.20" y2="1173.40" stroke="#000" stroke-width="2.7" stroke-linecap="butt"/>
<line x1="357.00" y1="1165.50" x2="357.00" y2="1173.40" stroke="#000" stroke-width="2.7" stroke-linecap="butt"/>
<line x1="472.80" y1="1165.50" x2="472.80" y2="1173.40" stroke="#000" stroke-width="2.7" stroke-linecap="butt"/>
<line x1="588.60" y1="1165.50" x2="588.60" y2="1173.40" stroke="#000" stroke-width="2.7" stroke-linecap="butt"/>
<line x1="170.10" y1="1161.60" x2="183.30" y2="1161.60" stroke="#000" stroke-width="2.7" stroke-linecap="butt"/>
<text x="165.8" y="1169.5" font-size="23.2" text-anchor="end" font-family="Liberation Sans, Arial, sans-serif" font-weight="bold" fill="#000" >0.0</text>
<line x1="170.10" y1="1051.40" x2="183.30" y2="1051.40" stroke="#000" stroke-width="2.7" stroke-linecap="butt"/>
<text x="165.8" y="1059.3" font-size="23.2" text-anchor="end" font-family="Liberation Sans, Arial, sans-serif" font-weight="bold" fill="#000" >0.5</text>
<line x1="170.10" y1="941.20" x2="183.30" y2="941.20" stroke="#000" stroke-width="2.7" stroke-linecap="butt"/>
<text x="165.8" y="949.1" font-size="23.2" text-anchor="end" font-family="Liberation Sans, Arial, sans-serif" font-weight="bold" fill="#000" >1.0</text>
<text x="414.6" y="1243.1" font-size="24.3" text-anchor="middle" font-family="Liberation Sans, Arial, sans-serif" font-weight="bold" fill="#000" >Time (min)</text>
<text transform="translate(119.5,1041.2) rotate(-90) scale(1,1)" font-size="25" text-anchor="middle" font-family="Liberation Sans, Arial, sans-serif" font-weight="bold" fill="#000" textLength="254" lengthAdjust="spacing">A280 (arbitrary units)</text>
</g>
<g id="chrom4">
<clipPath id="clip4"><rect x="915.9" y="917.9" width="469.4" height="247.60000000000002"/></clipPath>
<path d="M917.9,1162.4C928.2,1162.4 963.0,1162.4 980.0,1162.4C997.0,1162.4 1011.8,1162.5 1020.0,1162.2C1028.2,1161.9 1026.3,1160.6 1029.0,1160.6C1031.7,1160.6 1030.8,1161.7 1036.0,1162.0C1041.2,1162.3 1053.3,1162.3 1060.0,1162.2C1066.7,1162.1 1072.0,1161.4 1076.0,1161.2C1080.0,1161.0 1081.0,1160.7 1084.0,1160.8C1087.0,1160.9 1086.3,1161.5 1094.0,1161.8C1101.7,1162.1 1122.0,1162.4 1130.0,1162.4C1138.0,1162.4 1139.2,1162.0 1142.0,1161.6C1144.8,1161.2 1145.5,1160.8 1147.0,1160.0C1148.5,1159.2 1149.7,1157.8 1151.0,1156.6C1152.3,1155.4 1153.5,1153.8 1155.0,1152.6C1156.5,1151.4 1158.7,1150.4 1160.0,1149.2C1161.3,1148.0 1162.2,1147.5 1163.0,1145.6C1163.8,1143.7 1164.3,1141.6 1165.0,1137.6C1165.7,1133.6 1166.3,1127.6 1167.0,1121.6C1167.7,1115.6 1168.3,1108.8 1169.0,1101.5C1169.7,1094.2 1170.3,1086.2 1171.0,1077.5C1171.7,1068.8 1172.3,1058.8 1173.0,1049.5C1173.7,1040.2 1174.3,1029.1 1175.0,1021.5C1175.7,1013.9 1176.3,1007.8 1177.0,1004.0C1177.7,1000.2 1178.3,998.9 1179.0,998.9C1179.7,998.9 1180.3,1000.9 1181.0,1004.0C1181.7,1007.1 1182.3,1011.9 1183.0,1017.5C1183.7,1023.1 1184.7,1032.2 1185.4,1037.5C1186.1,1042.8 1186.8,1046.8 1187.4,1049.5C1188.0,1052.2 1188.4,1054.3 1189.0,1054.0C1189.6,1053.7 1190.3,1051.6 1191.0,1047.5C1191.7,1043.4 1192.3,1035.8 1193.0,1029.5C1193.7,1023.2 1194.3,1014.8 1195.0,1009.5C1195.7,1004.2 1196.3,1000.4 1197.0,998.0C1197.7,995.6 1198.3,995.3 1199.0,995.4C1199.7,995.5 1200.3,997.2 1201.0,998.8C1201.7,1000.4 1202.4,1003.7 1203.0,1005.0C1203.6,1006.3 1203.8,1007.0 1204.4,1006.4C1205.0,1005.8 1205.8,1004.3 1206.4,1001.5C1207.0,998.7 1207.4,995.5 1208.0,989.5C1208.6,983.5 1209.3,972.2 1210.0,965.4C1210.7,958.6 1211.4,952.3 1212.0,948.5C1212.6,944.7 1213.0,942.8 1213.6,942.4C1214.2,942.0 1214.9,942.6 1215.6,946.4C1216.3,950.2 1216.9,958.2 1217.6,965.4C1218.3,972.6 1218.9,980.7 1219.6,989.4C1220.3,998.1 1220.9,1008.1 1221.6,1017.5C1222.3,1026.8 1222.9,1036.8 1223.6,1045.5C1224.3,1054.2 1224.9,1061.2 1225.6,1069.5C1226.3,1077.8 1227.1,1087.5 1228.0,1095.5C1228.9,1103.5 1230.0,1111.6 1231.0,1117.6C1232.0,1123.6 1232.8,1127.4 1234.0,1131.6C1235.2,1135.8 1236.7,1139.6 1238.0,1142.6C1239.3,1145.6 1240.5,1147.6 1242.0,1149.6C1243.5,1151.6 1245.2,1153.3 1247.0,1154.6C1248.8,1155.9 1250.8,1156.9 1253.0,1157.6C1255.2,1158.3 1257.8,1158.2 1260.0,1158.6C1262.2,1159.0 1264.0,1159.5 1266.0,1160.0C1268.0,1160.5 1269.7,1161.3 1272.0,1161.8C1274.3,1162.3 1275.3,1162.9 1280.0,1163.2C1284.7,1163.5 1293.3,1163.4 1300.0,1163.4C1306.7,1163.4 1314.5,1163.5 1320.0,1163.2C1325.5,1162.9 1330.6,1163.1 1333.0,1161.8C1335.4,1160.5 1334.0,1160.0 1334.5,1155.6C1335.0,1151.2 1335.6,1141.0 1336.2,1135.6C1336.8,1130.2 1337.6,1125.4 1338.2,1123.0C1338.8,1120.6 1339.2,1120.5 1339.8,1121.0C1340.4,1121.5 1341.1,1122.6 1341.8,1126.0C1342.5,1129.4 1343.4,1137.0 1344.2,1141.6C1345.0,1146.2 1345.8,1150.5 1346.6,1153.6C1347.4,1156.7 1348.4,1158.8 1349.2,1160.0C1350.0,1161.2 1350.4,1161.3 1351.2,1160.6C1352.0,1159.9 1353.0,1156.8 1353.8,1155.6C1354.6,1154.4 1355.4,1153.4 1356.2,1153.4C1357.0,1153.4 1357.7,1154.7 1358.6,1155.6C1359.5,1156.5 1360.7,1158.8 1361.8,1159.0C1362.9,1159.2 1364.0,1157.7 1365.2,1156.6C1366.4,1155.5 1367.9,1153.8 1369.2,1152.6C1370.5,1151.4 1371.9,1150.5 1373.2,1149.6C1374.5,1148.7 1375.8,1148.3 1377.2,1147.2C1378.6,1146.1 1380.8,1143.9 1381.5,1143.2" fill="none" stroke="#000" stroke-width="2.7" stroke-linejoin="round" stroke-linecap="round" clip-path="url(#clip4)"/>
<line x1="917.90" y1="917.90" x2="917.90" y2="1179.20" stroke="#000" stroke-width="2.7" stroke-linecap="butt"/>
<line x1="916.55" y1="1165.50" x2="1382.65" y2="1165.50" stroke="#000" stroke-width="2.7" stroke-linecap="butt"/>
<text x="917.1" y="1204.4" font-size="23.2" text-anchor="middle" font-family="Liberation Sans, Arial, sans-serif" font-weight="bold" fill="#000" >0</text>
<line x1="1033.75" y1="1165.50" x2="1033.75" y2="1179.20" stroke="#000" stroke-width="2.7" stroke-linecap="butt"/>
<text x="1033.0" y="1204.4" font-size="23.2" text-anchor="middle" font-family="Liberation Sans, Arial, sans-serif" font-weight="bold" fill="#000" >1</text>
<line x1="1149.60" y1="1165.50" x2="1149.60" y2="1179.20" stroke="#000" stroke-width="2.7" stroke-linecap="butt"/>
<text x="1148.8" y="1204.4" font-size="23.2" text-anchor="middle" font-family="Liberation Sans, Arial, sans-serif" font-weight="bold" fill="#000" >2</text>
<line x1="1265.45" y1="1165.50" x2="1265.45" y2="1179.20" stroke="#000" stroke-width="2.7" stroke-linecap="butt"/>
<text x="1264.6" y="1204.4" font-size="23.2" text-anchor="middle" font-family="Liberation Sans, Arial, sans-serif" font-weight="bold" fill="#000" >3</text>
<line x1="1381.30" y1="1165.50" x2="1381.30" y2="1179.20" stroke="#000" stroke-width="2.7" stroke-linecap="butt"/>
<text x="1380.5" y="1204.4" font-size="23.2" text-anchor="middle" font-family="Liberation Sans, Arial, sans-serif" font-weight="bold" fill="#000" >4</text>
<line x1="975.82" y1="1165.50" x2="975.82" y2="1173.40" stroke="#000" stroke-width="2.7" stroke-linecap="butt"/>
<line x1="1091.67" y1="1165.50" x2="1091.67" y2="1173.40" stroke="#000" stroke-width="2.7" stroke-linecap="butt"/>
<line x1="1207.53" y1="1165.50" x2="1207.53" y2="1173.40" stroke="#000" stroke-width="2.7" stroke-linecap="butt"/>
<line x1="1323.38" y1="1165.50" x2="1323.38" y2="1173.40" stroke="#000" stroke-width="2.7" stroke-linecap="butt"/>
<line x1="904.70" y1="1162.10" x2="917.90" y2="1162.10" stroke="#000" stroke-width="2.7" stroke-linecap="butt"/>
<text x="900.4" y="1170.0" font-size="23.2" text-anchor="end" font-family="Liberation Sans, Arial, sans-serif" font-weight="bold" fill="#000" >0.0</text>
<line x1="904.70" y1="1051.55" x2="917.90" y2="1051.55" stroke="#000" stroke-width="2.7" stroke-linecap="butt"/>
<text x="900.4" y="1059.5" font-size="23.2" text-anchor="end" font-family="Liberation Sans, Arial, sans-serif" font-weight="bold" fill="#000" >0.5</text>
<line x1="904.70" y1="941.00" x2="917.90" y2="941.00" stroke="#000" stroke-width="2.7" stroke-linecap="butt"/>
<text x="900.4" y="948.9" font-size="23.2" text-anchor="end" font-family="Liberation Sans, Arial, sans-serif" font-weight="bold" fill="#000" >1.0</text>
<text x="1149.2" y="1243.1" font-size="24.3" text-anchor="middle" font-family="Liberation Sans, Arial, sans-serif" font-weight="bold" fill="#000" >Time (min)</text>
<text transform="translate(853.8,1041.2) rotate(-90) scale(1,1)" font-size="25" text-anchor="middle" font-family="Liberation Sans, Arial, sans-serif" font-weight="bold" fill="#000" textLength="254" lengthAdjust="spacing">A280 (arbitrary units)</text>
</g>
</svg>
</body></html>
